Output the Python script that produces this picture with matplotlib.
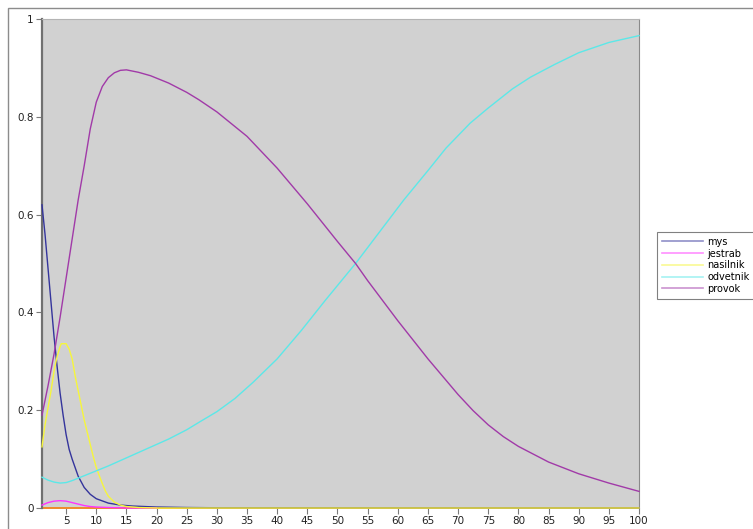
import matplotlib
matplotlib.use("Agg")
import matplotlib.pyplot as plt
from matplotlib.patches import Rectangle

mys_x = [1, 1.5, 2, 2.5, 3, 3.5, 4, 4.5, 5, 5.5, 6, 7, 8, 9, 10, 12, 14, 16, 20, 25, 30, 100]
mys_y = [0.62, 0.56, 0.49, 0.42, 0.35, 0.29, 0.235, 0.19, 0.15, 0.12, 0.10, 0.065, 0.042,
         0.028, 0.019, 0.010, 0.006, 0.004, 0.002, 0.001, 0.0005, 0.0]

jestrab_x = [1, 2, 3, 4, 5, 6, 7, 8, 9, 10, 12, 15, 20]
jestrab_y = [0.006, 0.011, 0.014, 0.015, 0.014, 0.011, 0.008, 0.005, 0.003, 0.002, 0.001,
             0.0, 0.0]

nasilnik_x = [1, 1.5, 2, 2.5, 3, 3.5, 4, 4.2, 5, 5.5, 6, 6.5, 7, 7.5, 8, 8.5, 9, 9.5, 10,
              10.5, 11, 11.5, 12, 13, 14, 15, 17, 20, 100]
nasilnik_y = [0.125, 0.17, 0.205, 0.24, 0.28, 0.31, 0.33, 0.336, 0.336, 0.325, 0.305, 0.27,
              0.24, 0.21, 0.18, 0.155, 0.13, 0.105, 0.083, 0.066, 0.05, 0.035, 0.024, 0.012,
              0.006, 0.003, 0.001, 0.0, 0.0]

odvetnik_x = [1, 2, 3, 4, 5, 6, 7, 8, 10, 12, 14, 16, 18, 20, 22, 25, 27, 30, 33, 36, 40, 44,
              48, 53, 57, 61, 65, 68, 72, 75, 79, 82, 86, 90, 95, 100]
odvetnik_y = [0.063, 0.057, 0.053, 0.051, 0.052, 0.056, 0.061, 0.066, 0.076, 0.086, 0.097,
              0.108, 0.119, 0.13, 0.141, 0.16, 0.175, 0.197, 0.224, 0.257, 0.305, 0.363, 0.425,
              0.50, 0.565, 0.63, 0.69, 0.736, 0.787, 0.818, 0.857, 0.881, 0.907, 0.931, 0.952,
              0.966]

provok_x = [1, 2, 3, 4, 5, 6, 7, 8, 9, 10, 11, 12, 13, 14, 15, 17, 19, 22, 25, 27, 30, 35, 40,
            45, 50, 53, 55, 60, 65, 70, 72.5, 75, 77.5, 80, 85, 90, 95, 100]
provok_y = [0.19, 0.25, 0.315, 0.39, 0.47, 0.55, 0.63, 0.70, 0.775, 0.83, 0.862, 0.88, 0.89,
            0.895, 0.896, 0.891, 0.884, 0.869, 0.85, 0.835, 0.81, 0.76, 0.695, 0.622, 0.545,
            0.50, 0.465, 0.383, 0.305, 0.232, 0.199, 0.17, 0.146, 0.126, 0.094, 0.07, 0.051,
            0.034]

series = [
    ("mys", mys_x, mys_y, "#34349c"),
    ("jestrab", jestrab_x, jestrab_y, "#ff33ff"),
    ("nasilnik", nasilnik_x, nasilnik_y, "#f6f63c"),
    ("odvetnik", odvetnik_x, odvetnik_y, "#5ce8e8"),
    ("provok", provok_x, provok_y, "#a13aa8"),
]

W, H = 753, 529
fig = plt.figure(figsize=(W / 100, H / 100), dpi=100)
fig.patch.set_facecolor("white")

# outer frame, runs off the right and bottom edges
fig.add_artist(Rectangle((8 / W, -0.1), 1.2, 1 - 8 / H + 0.1, transform=fig.transFigure,
                         fill=False, edgecolor="#8c8c8c", lw=1.0))

ax = fig.add_axes([42 / W, (H - 508) / H, (639 - 42) / W, (508 - 19) / H])
ax.set_facecolor("#d1d1d1")

for name, xs, ys, col in series:
    ax.plot(xs, ys, color=col, lw=1.0, label=name, zorder=3, clip_on=False)

ax.set_xlim(1, 100)
ax.set_ylim(0, 1)
ax.set_xticks(range(5, 101, 5))
ax.set_yticks([0, 0.2, 0.4, 0.6, 0.8, 1])
ax.set_yticklabels(["0", "0.2", "0.4", "0.6", "0.8", "1"])
ax.tick_params(labelsize=7.5, length=4, width=0.8, colors="#7a7a7a", labelcolor="#222222",
               pad=2)

ax.spines["left"].set_color("#707070")
ax.spines["left"].set_linewidth(1.6)
ax.spines["bottom"].set_color("#f08a2a")
ax.spines["bottom"].set_linewidth(1.4)
ax.spines["bottom"].set_zorder(2)
ax.spines["top"].set_color("#b4b4b4")
ax.spines["right"].set_color("#8a8a8a")

handles, labels = ax.get_legend_handles_labels()
leg = fig.legend(handles, labels, loc="upper left", bbox_to_anchor=(657 / W, 1 - 232 / H),
                 fontsize=7, frameon=True, fancybox=False, handlelength=4.2,
                 labelspacing=0.18, borderpad=0.5, handletextpad=0.5, borderaxespad=0)
leg.get_frame().set_edgecolor("#606060")
leg.get_frame().set_linewidth(0.8)
for ln in leg.get_lines():
    ln.set_alpha(0.55)
    ln.set_linewidth(1.2)

fig.savefig("out.png", dpi=100)
